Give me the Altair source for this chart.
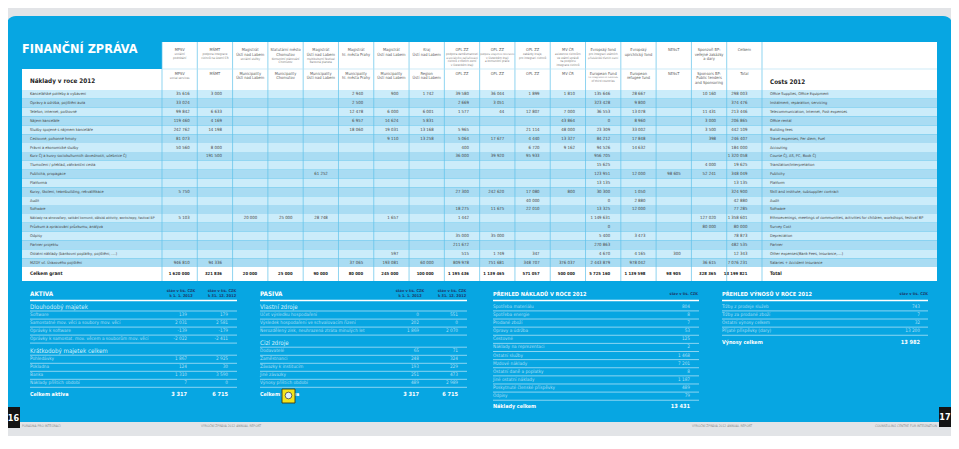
import altair as alt
import pandas as pd

# ======================= DATA =======================
N = None

ROW_LABELS_CZ = [
    "Kancelářské potřeby a vybavení",
    "Opravy a údržba, pojištění auta",
    "Telefon, internet, poštovné",
    "Nájem kanceláře",
    "Služby spojené s nájmem kanceláře",
    "Cestovné, pohonné hmoty",
    "Právní a ekonomické služby",
    "Kurz ČJ a kurzy sociokulturních dovedností, učebnice ČJ",
    "Tlumočení / překlad, zahraniční cesta",
    "Publicita, propagace",
    "Platforma",
    "Kurzy, školení, teambuilding, rekvalifikace",
    "Audit",
    "Software",
    "Náklady na etnovečery, setkání komunit, dětské aktivity, workshopy, festival BP",
    "Průzkum a zpracování průzkumu, analýza",
    "Odpisy",
    "Partner projektu",
    "Ostatní náklady (bankovní poplatky, pojištění, ....)",
    "MZDY  vč. Úrazového pojištění",
]
ROW_LABELS_EN = [
    "Office Supplies, Office Equipment",
    "Instalment, reparation, servicing",
    "Telecommunication, Internet, Post expenses",
    "Office rental",
    "Building fees",
    "Travel expenses, Per diem, Fuel",
    "Accouting",
    "Course ČJ, AS, PC, Book ČJ",
    "Translation/Interpretation",
    "Publicity",
    "Platform",
    "Skill and institute, subsupplier contract",
    "Audit",
    "Software",
    "Ethnoevenings, meetings of communities, activities for children, workshops, festival BP",
    "Survey Cost",
    "Depreciation",
    "Partner",
    "Other expenses(Bank Fees, Insurance,....)",
    "Salaries + Accident Insurance",
]
GRANT_LABEL_CZ = "Celkem grant"
GRANT_LABEL_EN = "Total"

MPSV = [35616, 33024, 99842, 119460, 242762, 81073, 50560, N, N, N, N, 5750, N, N, 5103, N, N, N, N, 946810]
MSMT = [3000, N, 6633, 4169, 14198, N, 8000, 191500, N, N, N, N, N, N, N, N, N, N, N, 94336]
MAG_UL_SOC = [N, N, N, N, N, N, N, N, N, N, N, N, N, N, 20000, N, N, N, N, N]
CHOMUTOV = [N, N, N, N, N, N, N, N, N, N, N, N, N, N, 25000, N, N, N, N, N]
MAG_UL_FEST = [N, N, N, N, N, N, N, N, N, 61252, N, N, N, N, 28748, N, N, N, N, N]
MAG_PRAHA = [2940, 2500, 12478, 6957, 18060, N, N, N, N, N, N, N, N, N, N, N, N, N, N, 37065]
MAG_UL = [900, N, 6000, 14624, 19031, 9110, N, N, N, N, N, N, N, N, 1657, N, N, N, 597, 193081]
KRAJ_UL = [1742, N, 6001, 5831, 13168, 13258, N, N, N, N, N, N, N, N, N, N, N, N, N, 60000]
OPLZZ_A = [39580, 2669, 1577, N, 5965, 5064, 400, 36000, N, N, N, 27300, N, 18275, 1442, N, 35000, 211672, 515, 809978]
OPLZZ_B = [36044, 3051, 44, N, N, 17677, N, 39920, N, N, N, 242620, N, 11675, N, N, 35000, N, 1749, 751681]
OPLZZ_C = [1899, N, 12807, N, 21114, 4440, 6720, 95933, N, N, N, 17080, 40000, 22010, N, N, N, N, 347, 348707]
MV_CR = [1810, N, 7000, 43864, 48000, 13327, 9162, N, N, N, N, 800, N, N, N, N, N, N, N, 376037]
EIF = [135646, 323428, 36553, 0, 23309, 84212, 94526, 956705, 15625, 123951, 13135, 30300, 0, 13325, 1149631, 0, 5400, 270863, 4670, 2443879]
ERF = [28667, 9800, 13078, 8960, 33002, 17848, 14632, N, N, 12000, N, 1050, 2880, 12000, N, N, 3473, N, 4165, 978042]
NESST = [N, N, N, N, N, N, N, N, N, 98605, N, N, N, N, N, N, N, N, 300, N]
SPONZORI = [10160, N, 11431, 3000, 3500, 398, N, N, 4000, 52241, N, N, N, N, 127020, 80000, N, N, N, 36615]
CELKEM = [298003, 374476, 213446, 206865, 442109, 246407, 184000, 1320058, 19625, 348049, 13135, 324900, 42880, 77285, 1358601, 80000, 78873, 482535, 12343, 7076231]
GRANT_TOTALS = [1620000, 321836, 20000, 25000, 90000, 80000, 245000, 100000, 1195436, 1139465, 571057, 500000, 5725160, 1139598, 98905, 328365, 13199821]

FUNDER_COLUMNS = [MPSV, MSMT, MAG_UL_SOC, CHOMUTOV, MAG_UL_FEST, MAG_PRAHA, MAG_UL, KRAJ_UL,
                  OPLZZ_A, OPLZZ_B, OPLZZ_C, MV_CR, EIF, ERF, NESST, SPONZORI, CELKEM]

HEAD_CZ_MAIN = [["MPSV"], ["MŠMT"], ["Magistrát", "Ústí nad Labem"], ["Statutární město", "Chomutov"],
                ["Magistrát", "Ústí nad Labem"], ["Magistrát", "hl. města Prahy"], ["Magistrát", "Ústí nad Labem"],
                ["Kraj", "Ústí nad Labem"], ["OPL ZZ"], ["OPL ZZ"], ["OPL ZZ"], ["MV ČR"], ["Evropský fond"],
                ["Evropský", "uprchlický fond"], ["NESsT"], ["Sponzoři BP:", "veřejné zakázky", "a dary"], ["Celkem"]]
HEAD_CZ_SUB = [["sociální", "podnikání"], ["podpora integrace", "cizinců na území ČR"], ["sociální služby"],
               ["Komunitní plánování", "Chomutov"], ["multikulturní festival", "Barevná planeta"], [], [], [],
               ["podpora zaměstnanosti", "a sociálního začleňování", "cizinců z třetích zemí", "v Ústeckém kraji"],
               ["podpora vzájemné tolerance", "v Ústeckém kraji", "a komunitní práce"],
               ["zakázky kraje,", "pro integraci cizinců"],
               ["asistence cizincům", "ve státní správě", "na podporu", "integrace cizinců"],
               ["pro integraci státních", "příslušníků třetích zemí"], [], [], [], []]
HEAD_EN_MAIN = [["MPSV"], ["MŠMT"], ["Municipality", "Ústí nad Labem"], ["Municipality", "Chomutov"],
                ["Municipality", "Ústí nad Labem"], ["Municipality", "hl. města Prahy"], ["Municipality", "Ústí nad Labem"],
                ["Region", "Ústí nad Labem"], ["OPL ZZ"], ["OPL ZZ"], ["OPL ZZ"], ["MV ČR"], ["European Fund"],
                ["European", "refugee fund"], ["NESsT"], ["Sponsors BP:", "Public tenders", "and Sponsoring"], ["Total"]]
HEAD_EN_SUB = [["social services"], [], [], [], [], [], [], [], [], [], [], [],
               ["for integration of nationals", "of third countries"], [], [], [], []]

TITLE = "FINANČNÍ ZPRÁVA"
TABLE_TITLE_CZ = "Náklady v roce 2012"
TABLE_TITLE_EN = "Costs 2012"

AKTIVA_G1 = ["Software", "Samostatné mov. věci a soubory mov. věcí", "Oprávky k software",
             "Oprávky k samostat. mov. věcem a souborům mov. věcí"]
AKTIVA_G1_START = [139, 2031, -139, -2022]
AKTIVA_G1_END = [179, 2581, -179, -2411]
AKTIVA_G2 = ["Pohledávky", "Pokladna", "Banka", "Náklady příštích období"]
AKTIVA_G2_START = [1867, 124, 1310, 7]
AKTIVA_G2_END = [2925, 30, 3590, 0]
AKTIVA_TOTAL = [3317, 6715]

PASIVA_G1 = ["Účet výsledku hospodaření", "Výsledek hospodaření ve schvalovacím řízení",
             "Nerozdělený zisk, neuhrazená ztráta minulých let"]
PASIVA_G1_START = [0, 202, 1869]
PASIVA_G1_END = [551, 0, 2070]
PASIVA_G2 = ["Dodavatelé", "Zaměstnanci", "Závazky k institucím", "Jiné závazky", "Výnosy příštích období"]
PASIVA_G2_START = [65, 248, 193, 251, 489]
PASIVA_G2_END = [71, 324, 229, 473, 2989]
PASIVA_TOTAL = [3317, 6715]

NAKLADY_ITEMS = ["Spotřeba materiálu", "Spotřeba energie", "Prodané zboží", "Opravy a údržba", "Cestovné",
                 "Náklady na reprezentaci", "Ostatní služby", "Mzdové náklady", "Ostatní daně a poplatky",
                 "Jiné ostatní náklady", "Poskytnuté členské příspěvky", "Odpisy"]
NAKLADY_VALUES = [804, 8, 7, 53, 125, 2, 1468, 7201, 8, 1187, 489, 79]
NAKLADY_TOTAL = 13431

VYNOSY_ITEMS = ["Tržby z prodeje služeb", "Tržby za prodané zboží", "Ostatní výnosy celkem",
                "Přijaté příspěvky (dary)"]
VYNOSY_VALUES = [743, 7, 32, 13200]
VYNOSY_TOTAL = 13982

# ======================= STYLE / LAYOUT =======================
W, H = 943, 428
FONT = "Liberation Sans Narrow, Arial Narrow, DejaVu Sans Condensed, sans-serif"
BLUE = "#07a6e2"
GREY = "#e2e4e7"
ROW_LIGHT = "#cbecfa"
ROW_DARK = "#a9dcf3"
GRID = "#5fc1ea"
TXT = "#474747"
HDR = "#5c5c5c"
HDR_SUB = "#7d7d7d"
NAVY = "#1b3d6d"
PALE = "#acdff6"
SUBHEAD = "#d3f0fc"
LINE = "#e4f5fd"

COL_X0, COL_W, NCOL = 162, 600 / 17, 17
DESC_X1 = 937
LEFT_X0 = 22
HEAD_Y0, HEAD_MID, HEAD_Y1 = 42, 69, 90
ROW_H = 8.85
GRANT_Y0, GRANT_Y1 = 267, 281
NUM_SHIFT = [10] + [7] * 15 + [3]
EM = 0.46  # average glyph width of the fallback font, in em

XS = alt.Scale(domain=[8, 8 + W], range=[0, W], nice=False, zero=False)
YS = alt.Scale(domain=[8, 8 + H], range=[0, H], nice=False, zero=False)


def fmt(v):
    return f"{v:,}".replace(",", " ")


def fit(label, size, room):
    return min(size, room / (EM * max(len(label), 1)))


texts, rects, hrules, vrules = [], [], [], []


def T(x, y, t, size, color, align="left", weight="normal"):
    texts.append(dict(x=x, y=y, t=t, size=size, color=color, align=align, weight=weight))


# ---------- main table backgrounds ----------
rects.append(dict(x=COL_X0, x2=DESC_X1, y=HEAD_Y0, y2=HEAD_Y1, fill="#ffffff"))
rects.append(dict(x=LEFT_X0, x2=COL_X0, y=HEAD_MID, y2=HEAD_Y1, fill="#ffffff"))
for i in range(len(ROW_LABELS_CZ)):
    rects.append(dict(x=LEFT_X0, x2=DESC_X1, y=HEAD_Y1 + i * ROW_H, y2=HEAD_Y1 + (i + 1) * ROW_H,
                      fill=ROW_LIGHT if i % 2 == 0 else ROW_DARK))
rects.append(dict(x=LEFT_X0, x2=DESC_X1, y=GRANT_Y0, y2=GRANT_Y1, fill="#ffffff"))

for k in range(NCOL + 1):
    vrules.append(dict(x=COL_X0 + k * COL_W, y=HEAD_Y0, y2=GRANT_Y1, stroke=GRID, w=0.7))
hrules.append(dict(x=COL_X0, x2=DESC_X1, y=HEAD_MID, stroke="#b9e2f4", w=0.7))

# ---------- titles ----------
T(22, 48.5, TITLE, 12.6, "#ffffff", weight="bold")
T(30, 80.5, TABLE_TITLE_CZ, 6.3, "#222222", weight="bold")
T(770, 81.5, TABLE_TITLE_EN, 6.3, "#222222", weight="bold")

# ---------- headers ----------
for j in range(NCOL):
    cx = COL_X0 + (j + 0.5) * COL_W
    y = 50
    for line in HEAD_CZ_MAIN[j]:
        T(cx, y, line, fit(line, 4.0, 31), HDR, "center")
        y += 4.5
    y -= 0.3
    for line in HEAD_CZ_SUB[j]:
        T(cx, y, line, fit(line, 3.0, 32), HDR_SUB, "center")
        y += 3.4
    y = 73.5
    for line in HEAD_EN_MAIN[j]:
        T(cx, y, line, fit(line, 4.0, 31), HDR, "center")
        y += 4.5
    y -= 0.4
    for line in HEAD_EN_SUB[j]:
        T(cx, y, line, fit(line, 3.0, 32), HDR_SUB, "center")
        y += 3.3

# ---------- rows ----------
for i, (cz, en) in enumerate(zip(ROW_LABELS_CZ, ROW_LABELS_EN)):
    yc = HEAD_Y1 + (i + 0.5) * ROW_H
    T(30, yc, cz, fit(cz, 3.9, 126), TXT)
    T(770, yc, en, fit(en, 3.9, 163), TXT)
    for j, col in enumerate(FUNDER_COLUMNS):
        v = col[i]
        if v is None:
            continue
        T(COL_X0 + (j + 0.5) * COL_W + NUM_SHIFT[j], yc, fmt(v), 4.3, TXT, "right")

yg = (GRANT_Y0 + GRANT_Y1) / 2
T(30, yg, GRANT_LABEL_CZ, 4.8, "#222222", weight="bold")
T(770, yg, GRANT_LABEL_EN, 4.8, "#222222", weight="bold")
for j, v in enumerate(GRANT_TOTALS):
    T(COL_X0 + (j + 0.5) * COL_W + NUM_SHIFT[j], yg, fmt(v), 4.2, "#222222", "right", "bold")

# ---------- bottom panels ----------
PANEL_TITLE_Y = 293.5
HEAD_LINE_Y = 300.5
ITEM_SIZE = 4.7


def panel_head(x0, x1, title, heads, tsize):
    T(x0, PANEL_TITLE_Y, title, tsize, "#ffffff", weight="bold")
    for cx, lines, align in heads:
        yy = 291 if len(lines) > 1 else 294
        for ln in lines:
            T(cx, yy, ln, 3.9, NAVY, align, "bold")
            yy += 4.6
    hrules.append(dict(x=x0, x2=x1, y=HEAD_LINE_Y, stroke="#ffffff", w=1.3))


def item(x0, x1, y, label, vals, rights, line=True):
    T(x0, y, label, ITEM_SIZE, PALE)
    for v, r in zip(vals, rights):
        T(r, y, fmt(v), ITEM_SIZE, PALE, "right")
    if line:
        hrules.append(dict(x=x0, x2=x1, y=y + 4.1, stroke=LINE, w=0.6))


def subhead(x0, x1, y, label):
    T(x0, y, label, 6.2, SUBHEAD)
    hrules.append(dict(x=x0, x2=x1, y=y + 4.5, stroke=LINE, w=0.6))


def total(x0, y, label, vals, rights):
    T(x0, y, label, 5.4, "#ffffff", weight="bold")
    for v, r in zip(vals, rights):
        T(r, y, fmt(v), 5.6, "#ffffff", "right", "bold")


HEAD_DATE_1 = ["stav v tis. CZK", "k 1. 1. 2012"]
HEAD_DATE_2 = ["stav v tis. CZK", "k 31. 12. 2012"]

# AKTIVA
ax0, ax1, ar = 30, 237, [187, 228]
panel_head(ax0, ax1, "AKTIVA", [(181, HEAD_DATE_1, "center"), (222, HEAD_DATE_2, "center")], 6.3)
subhead(ax0, ax1, 306.5, "Dlouhodobý majetek")
for i, lab in enumerate(AKTIVA_G1):
    item(ax0, ax1, 315 + 8 * i, lab, [AKTIVA_G1_START[i], AKTIVA_G1_END[i]], ar)
subhead(ax0, ax1, 350.7, "Krátkodobý majetek celkem")
for i, lab in enumerate(AKTIVA_G2):
    item(ax0, ax1, 359.2 + 8 * i, lab, [AKTIVA_G2_START[i], AKTIVA_G2_END[i]], ar)
total(ax0, 394, "Celkem aktiva", AKTIVA_TOTAL, ar)

# PASIVA
px0, px1, pr = 260, 467, [419, 458]
panel_head(px0, px1, "PASIVA", [(410, HEAD_DATE_1, "center"), (452, HEAD_DATE_2, "center")], 6.3)
subhead(px0, px1, 306.5, "Vlastní zdroje")
for i, lab in enumerate(PASIVA_G1):
    item(px0, px1, 315 + 8 * i, lab, [PASIVA_G1_START[i], PASIVA_G1_END[i]], pr)
subhead(px0, px1, 342.7, "Cizí zdroje")
for i, lab in enumerate(PASIVA_G2):
    item(px0, px1, 351.2 + 8 * i, lab, [PASIVA_G2_START[i], PASIVA_G2_END[i]], pr)
total(px0, 394, "Celkem pasiva", PASIVA_TOTAL, pr)

# PŘEHLED NÁKLADŮ
nx0, nx1 = 493, 699
panel_head(nx0, nx1, "PŘEHLED NÁKLADŮ V ROCE 2012", [(698, ["stav v tis. CZK"], "right")], 5.6)
for i, lab in enumerate(NAKLADY_ITEMS):
    item(nx0, nx1, 306.8 + 8.12 * i, lab, [NAKLADY_VALUES[i]], [690])
total(nx0, 406, "Náklady celkem", [NAKLADY_TOTAL], [690])

# PŘEHLED VÝNOSŮ
vx0, vx1 = 722, 928
panel_head(vx0, vx1, "PŘEHLED VÝNOSŮ V ROCE 2012", [(928, ["stav v tis. CZK"], "right")], 5.6)
for i, lab in enumerate(VYNOSY_ITEMS):
    item(vx0, vx1, 306.8 + 8.12 * i, lab, [VYNOSY_VALUES[i]], [920])
total(vx0, 342, "Výnosy celkem", [VYNOSY_TOTAL], [920])

# ---------- footer ----------
FOOT = "#8c8c8c"
T(22, 425.5, "PORADNA PRO INTEGRACI", 3.3, FOOT)
T(201, 425.5, "VÝROČNÍ ZPRÁVA 2012 ANNUAL REPORT", 3.3, FOOT)
T(692, 425.5, "VÝROČNÍ ZPRÁVA 2012 ANNUAL REPORT", 3.3, FOOT)
T(937, 425.5, "COUNSELLING CENTRE FOR INTEGRATION", 3.3, FOOT, "right")

# ======================= CHART =======================
X = lambda f="x": alt.X(f + ":Q", scale=XS, axis=None)
Y = lambda f="y": alt.Y(f + ":Q", scale=YS, axis=None)

panel = alt.Chart(pd.DataFrame([dict(x=6, x2=953, y=16, y2=422)])).mark_rect(
    color=BLUE, cornerRadiusTopLeft=10, cornerRadiusTopRight=10
).encode(x=X(), x2="x2:Q", y=Y(), y2="y2:Q")

rect_layer = alt.Chart(pd.DataFrame(rects)).mark_rect().encode(
    x=X(), x2="x2:Q", y=Y(), y2="y2:Q",
    fill=alt.Fill("fill:N", scale=None, legend=None),
)

hrule_layer = alt.Chart(pd.DataFrame(hrules)).mark_rule().encode(
    x=X(), x2="x2:Q", y=Y(),
    stroke=alt.Stroke("stroke:N", scale=None, legend=None),
    size=alt.Size("w:Q", scale=None, legend=None),
)
vrule_layer = alt.Chart(pd.DataFrame(vrules)).mark_rule().encode(
    x=X(), y=Y(), y2="y2:Q",
    stroke=alt.Stroke("stroke:N", scale=None, legend=None),
    size=alt.Size("w:Q", scale=None, legend=None),
)

tab16 = alt.Chart(pd.DataFrame([dict(x=0, x2=20, y=407, y2=428)])).mark_rect(
    color="#141414", cornerRadiusTopLeft=6
).encode(x=X(), x2="x2:Q", y=Y(), y2="y2:Q")
tab17 = alt.Chart(pd.DataFrame([dict(x=939, x2=959, y=407, y2=427)])).mark_rect(
    color="#141414", cornerRadiusBottomRight=6
).encode(x=X(), x2="x2:Q", y=Y(), y2="y2:Q")
tab_text = alt.Chart(pd.DataFrame([dict(x=13.5, y=417.5, t="16"), dict(x=945, y=417, t="17")])).mark_text(
    font=FONT, fontSize=9, fontWeight="bold", color="#ffffff", align="center", baseline="middle"
).encode(x=X(), y=Y(), text="t:N")

tdf = pd.DataFrame(texts)
text_layers = []
for (al, wt), sub in tdf.groupby(["align", "weight"]):
    text_layers.append(
        alt.Chart(sub.reset_index(drop=True)).mark_text(
            align=al, baseline="middle", font=FONT, fontWeight=wt
        ).encode(
            x=X(), y=Y(), text="t:N",
            size=alt.Size("size:Q", scale=None, legend=None),
            color=alt.Color("color:N", scale=None, legend=None),
        )
    )

note_box = alt.Chart(pd.DataFrame([dict(x=282, x2=295, y=389, y2=403)])).mark_rect(
    color="#f3e41c", stroke="#3a3a1a", strokeWidth=0.9
).encode(x=X(), x2="x2:Q", y=Y(), y2="y2:Q")
note_bubble = alt.Chart(pd.DataFrame([dict(x=288.5, y=395.5)])).mark_point(
    shape="circle", size=45, filled=True, color="#dff0ff", stroke="#333333", strokeWidth=0.7, opacity=1
).encode(x=X(), y=Y())

chart = alt.layer(
    panel, rect_layer, vrule_layer, hrule_layer, tab16, tab17, *text_layers, tab_text, note_box, note_bubble
).properties(
    width=W, height=H, padding=0, background=GREY,
    autosize=alt.AutoSizeParams(type="none"),
).configure_view(strokeWidth=0)

chart.save("out.html", embed_options={"renderer": "svg", "actions": False})
